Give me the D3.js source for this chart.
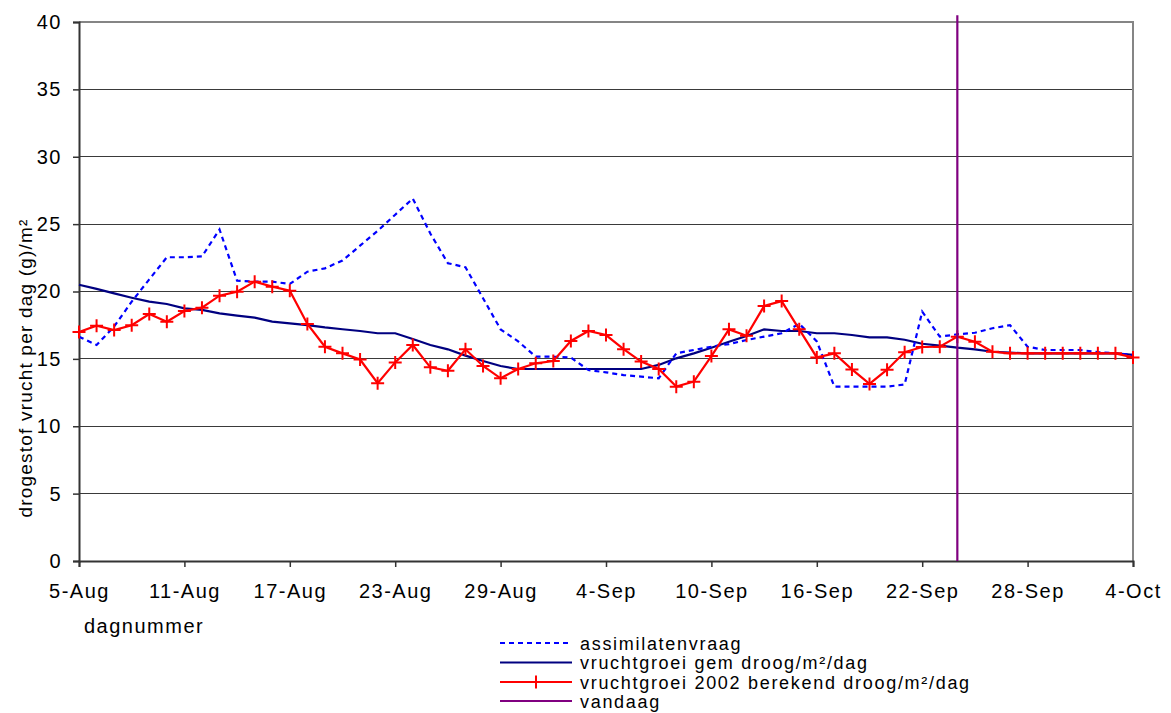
<!DOCTYPE html>
<html>
<head>
<meta charset="utf-8">
<script src="https://cdn.jsdelivr.net/npm/d3@7"></script>
<style>
  html, body { margin: 0; padding: 0; background: #fff; }
  svg { display: block; font-family: "Liberation Sans", Arial, sans-serif; }
</style>
</head>
<body>
<svg id="chart" width="1171" height="713"></svg>
<script>
// Daily values from 5 Aug to 4 Oct 2002 (61 days)
const startDate = new Date(2002, 7, 5);

const assimilatenvraag = [
  16.65, 16.03, 17.4, 19.25, 20.9, 22.54, 22.54, 22.6, 24.6, 20.8,
  20.73, 20.73, 20.56, 21.47, 21.72, 22.3, 23.4, 24.5, 25.7, 26.9,
  24.3, 22.1, 21.8, 19.5, 17.19, 16.3, 15.16, 15.16, 15.1, 14.17,
  14.0, 13.8, 13.68, 13.56, 15.41, 15.66, 15.9, 16.1, 16.4, 16.65,
  16.9, 17.6, 16.3, 12.94, 12.94, 12.94, 12.94, 13.1, 18.5, 16.65,
  16.82, 16.94, 17.27, 17.5, 15.9, 15.66, 15.66, 15.66, 15.5, 15.41,
  15.29
];

const groeiGem = [
  20.5, 20.19, 19.86, 19.54, 19.25, 19.07, 18.75, 18.63, 18.38, 18.21,
  18.06, 17.76, 17.64, 17.51, 17.34, 17.2, 17.07, 16.9, 16.9, 16.47,
  16.03, 15.71, 15.24, 14.84, 14.47, 14.25, 14.25, 14.25, 14.25, 14.25,
  14.25, 14.25, 14.25, 14.55, 15.04, 15.41, 15.83, 16.27, 16.7, 17.19,
  17.07, 17.07, 16.9, 16.9, 16.77, 16.6, 16.6, 16.42, 16.12, 15.98,
  15.83, 15.71, 15.53, 15.46, 15.41, 15.41, 15.41, 15.41, 15.41, 15.41,
  15.29
];

const groei2002 = [
  17.0, 17.46, 17.14, 17.5, 18.33, 17.76, 18.55, 18.8, 19.69, 19.99,
  20.73, 20.36, 20.06, 17.59, 15.9, 15.41, 14.95, 13.19, 14.74, 16.03,
  14.37, 14.12, 15.71, 14.47, 13.56, 14.25, 14.67, 14.84, 16.33, 17.07,
  16.77, 15.72, 14.8, 14.25, 12.94, 13.31, 15.21, 17.19, 16.72, 18.92,
  19.29, 17.19, 15.11, 15.41, 14.22, 13.14, 14.2, 15.5, 15.88, 15.9,
  16.65, 16.27, 15.53, 15.41, 15.41, 15.41, 15.41, 15.41, 15.41, 15.41,
  15.11
];

// "vandaag" marker: day index and its vertical extent
const vandaagDay = [50, 50];
const vandaagValues = [0, 40.5];

const xTickLabels = ["5-Aug", "11-Aug", "17-Aug", "23-Aug", "29-Aug", "4-Sep",
                     "10-Sep", "16-Sep", "22-Sep", "28-Sep", "4-Oct"];
const yTicks = [0, 5, 10, 15, 20, 25, 30, 35, 40];

const seriesNames = [
  "assimilatenvraag",
  "vruchtgroei gem droog/m\u00B2/dag",
  "vruchtgroei 2002 berekend droog/m\u00B2/dag",
  "vandaag"
];

const dayDate = i => d3.timeDay.offset(startDate, i);

const svg = d3.select("#chart");
const plot = { left: 79, right: 1133, top: 22, bottom: 561 };

const x = d3.scaleTime()
  .domain([startDate, dayDate(60)])
  .range([plot.left, plot.right]);
const y = d3.scaleLinear()
  .domain([0, 40])
  .range([plot.bottom, plot.top]);

// Horizontal gridlines
svg.append("g")
  .selectAll("line")
  .data(yTicks.filter(v => v > 0))
  .join("line")
  .attr("x1", plot.left).attr("x2", plot.right)
  .attr("y1", d => y(d)).attr("y2", d => y(d))
  .attr("stroke", "#3a3a3a").attr("stroke-width", 1)
  .attr("shape-rendering", "crispEdges");

// Plot area frame: top and right in grey
svg.append("path")
  .attr("d", `M${plot.left},${plot.top}H${plot.right}V${plot.bottom}`)
  .attr("fill", "none").attr("stroke", "#858585").attr("stroke-width", 2);

// Y axis
const yAxis = d3.axisLeft(y).tickValues(yTicks).tickSize(6).tickPadding(11);
const gy = svg.append("g").attr("transform", `translate(${plot.left},0)`).call(yAxis);
gy.select(".domain").attr("stroke", "#333").attr("stroke-width", 2);
gy.selectAll(".tick line").attr("stroke", "#333").attr("stroke-width", 1.5);
gy.selectAll(".tick text")
  .attr("font-size", 20).attr("fill", "#000")
  .attr("letter-spacing", "1.5px")
  .attr("font-family", "Liberation Sans, Arial, sans-serif");

// X axis
const xTickValues = xTickLabels.map((_, i) => dayDate(i * 6));
const xAxis = d3.axisBottom(x)
  .tickValues(xTickValues)
  .tickFormat((d, i) => xTickLabels[i])
  .tickSize(6).tickPadding(17);
const gx = svg.append("g").attr("transform", `translate(0,${plot.bottom})`).call(xAxis);
gx.select(".domain").attr("stroke", "#333").attr("stroke-width", 2);
gx.selectAll(".tick line").attr("stroke", "#333").attr("stroke-width", 1.5);
gx.selectAll(".tick text")
  .attr("font-size", 20).attr("fill", "#000")
  .attr("letter-spacing", "1.5px")
  .attr("font-family", "Liberation Sans, Arial, sans-serif");

// Axis titles
svg.append("text")
  .attr("x", 84).attr("y", 633)
  .attr("font-size", 20).attr("letter-spacing", "1.5px")
  .text("dagnummer");

svg.append("text")
  .attr("transform", "translate(32,368) rotate(-90)")
  .attr("text-anchor", "middle")
  .attr("font-size", 19).attr("letter-spacing", "1.2px")
  .text("drogestof vrucht per dag (g)/m\u00B2");

// Series lines
const line = arr => d3.line()
  .x((d, i) => x(dayDate(i)))
  .y(d => y(d))(arr);

svg.append("path")
  .attr("d", line(groeiGem))
  .attr("fill", "none").attr("stroke", "#000080").attr("stroke-width", 2.2);

svg.append("path")
  .attr("d", line(assimilatenvraag))
  .attr("fill", "none").attr("stroke", "#0000ff").attr("stroke-width", 2.2)
  .attr("stroke-dasharray", "5,4");

svg.append("path")
  .attr("d", line(groei2002))
  .attr("fill", "none").attr("stroke", "#ff0000").attr("stroke-width", 2.2);

// "+" markers on the 2002 series
const plusPath = (cx, cy, r) => `M${cx - r},${cy}H${cx + r}M${cx},${cy - r}V${cy + r}`;
svg.append("g")
  .selectAll("path")
  .data(groei2002)
  .join("path")
  .attr("d", (d, i) => plusPath(x(dayDate(i)), y(d), 6.5))
  .attr("stroke", "#ff0000").attr("stroke-width", 2).attr("fill", "none");

// Today line
svg.append("line")
  .attr("x1", x(dayDate(vandaagDay[0]))).attr("x2", x(dayDate(vandaagDay[1])))
  .attr("y1", y(vandaagValues[0])).attr("y2", y(vandaagValues[1]))
  .attr("stroke", "#800080").attr("stroke-width", 2.2);

// Legend
const legendStyles = [
  { color: "#0000ff", dash: "5,4", marker: false },
  { color: "#000080", dash: null, marker: false },
  { color: "#ff0000", dash: null, marker: true },
  { color: "#800080", dash: null, marker: false }
];
const legendY = [643, 662.5, 682, 701];
const legend = svg.append("g");
seriesNames.forEach((name, i) => {
  const st = legendStyles[i];
  const ly = legendY[i];
  legend.append("line")
    .attr("x1", 500).attr("x2", 572)
    .attr("y1", ly).attr("y2", ly)
    .attr("stroke", st.color).attr("stroke-width", 2.2)
    .attr("stroke-dasharray", st.dash);
  if (st.marker) {
    legend.append("path")
      .attr("d", plusPath(536, ly, 6.5))
      .attr("stroke", st.color).attr("stroke-width", 2).attr("fill", "none");
  }
  legend.append("text")
    .attr("x", 580).attr("y", ly + 6.5)
    .attr("font-size", 18).attr("letter-spacing", "1.7px")
    .text(name);
});
</script>
</body>
</html>
